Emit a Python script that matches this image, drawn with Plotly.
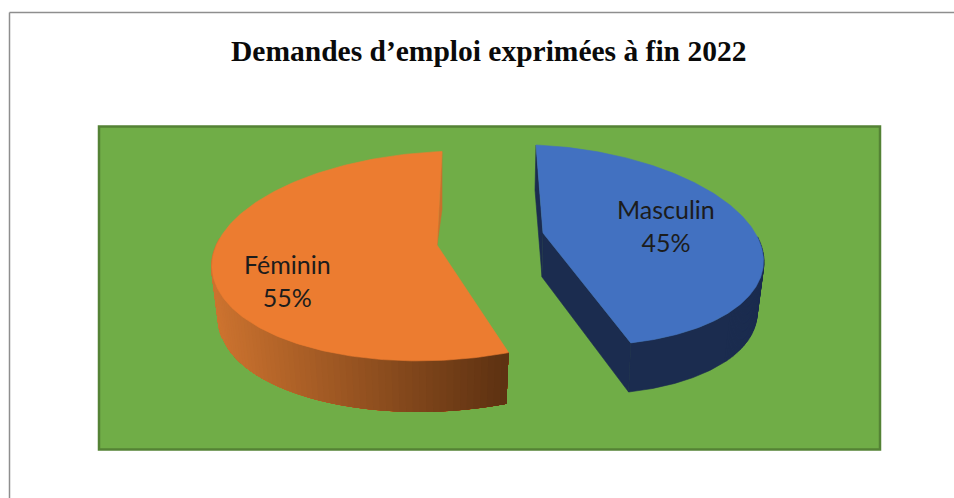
import numpy as np
import plotly.graph_objects as go

title = "Demandes d’emploi exprimées à fin 2022"
categories = ["Masculin", "Féminin"]
values = [45, 55]

W, H = 954, 498
GREEN, GREEN_EDGE = "#70AD47", "#548235"
TOP = {"Masculin": "#4271C1", "Féminin": "#EC7C30"}
BLUE_WALL = "#1B2C4F"
ORANGE_INNER = "#C9702C"

# projection of each exploded slice: cx, cy, rx, ry, x skew, y tilt of the top
# face, the same for the bottom face, and the apex position of both faces
GEOM = {
    "Masculin": dict(top=(551, 245, 212, 100, 15, 9), bot=(551, 297, 205, 97, 15, 9),
                     apex=(543, 233), apex_b=(542, 277), label=(666, 225)),
    "Féminin": dict(top=(440, 256, 228, 104.5, -2, -9), bot=(440, 310.5, 221, 101, -2, -9),
                    apex=(437, 245), apex_b=(437, 290), label=(287, 280)),
}


def pt(face, theta):
    cx, cy, rx, ry, k, m = face
    return cx + rx * np.sin(theta) - k * np.cos(theta), cy - ry * np.cos(theta) + m * np.sin(theta)


def arc(face, a, b, n=120):
    return pt(face, np.linspace(a, b, n))


def poly(xs, ys, color, lw=0.6):
    return go.Scatter(x=list(xs), y=list(ys), mode="lines", fill="toself", fillcolor=color,
                      line=dict(color=color, width=lw), hoverinfo="skip", showlegend=False)


def sweep(g, a, b, n=60):
    """Outline swept by the generatrix between top and bottom face over [a, b]."""
    t = np.linspace(a, b, n)
    xt, yt = pt(g["top"], t)
    xb, yb = pt(g["bot"], t)
    xs, ys = [], []
    for i in range(n):
        xs += [xt[i], xb[i], None]
        ys += [yt[i], yb[i], None]
    return xs, ys


def lerp(c1, c2, t):
    return "rgb(%d,%d,%d)" % tuple(a + (b - a) * t for a, b in zip(c1, c2))


total = sum(values)
ang_m = 2 * np.pi * values[0] / total   # Masculin runs clockwise from 12 o'clock
spans = {"Masculin": (0.0, ang_m), "Féminin": (ang_m, 2 * np.pi)}

fig = go.Figure()

# Féminin walls: painted from the far left towards the dark right end, each band
# overlapping the next so that no seams show
g = GEOM["Féminin"]
a, b = spans["Féminin"]
x0, y0 = pt(g["top"], b)
x1, y1 = pt(g["bot"], b)
fig.add_trace(poly([x0, x1, g["apex"][0]], [y0, y1, g["apex"][1]], ORANGE_INNER))
stop = a + (b - a) * 0.62
edges = np.linspace(a, stop, 71)
L, R = 212, 508
xs, ys = sweep(g, stop - 0.45, stop)
fig.add_trace(go.Scatter(x=xs, y=ys, mode="lines", line=dict(color="rgb(206,116,48)", width=2),
                         hoverinfo="skip", showlegend=False))
for e0 in edges[:-1][::-1]:
    xt, yt = arc(g["top"], a, e0 + (edges[1] - edges[0]), 40)
    xb, yb = arc(g["bot"], e0 + (edges[1] - edges[0]), a, 40)
    t = (R - pt(g["top"], e0)[0]) / (R - L)
    col = lerp((94, 50, 18), (206, 116, 48), float(np.clip(t, 0, 1)))
    fig.add_trace(poly(np.r_[xt, xb], np.r_[yt, yb], col, 0))

# Masculin walls: the outer wall only starts where it becomes visible
g = GEOM["Masculin"]
a, b = spans["Masculin"]
vis = a + 1.4
xt, yt = arc(g["top"], vis, b)
xb, yb = arc(g["bot"], b, vis)
fig.add_trace(poly(np.r_[xt, xb], np.r_[yt, yb], BLUE_WALL))
xs, ys = sweep(g, vis, vis + 0.8)
fig.add_trace(go.Scatter(x=xs, y=ys, mode="lines", line=dict(color=BLUE_WALL, width=2),
                         hoverinfo="skip", showlegend=False))
xe, ye = pt(g["top"], b)
xf, yf = pt(g["bot"], b)
fig.add_trace(poly([g["apex"][0], xe, xf, g["apex_b"][0]], [g["apex"][1], ye, yf, g["apex_b"][1]], BLUE_WALL))
xe, ye = pt(g["top"], a)
xf, yf = pt(g["bot"], a)
fig.add_trace(poly([xe, xf - 1, g["apex_b"][0], g["apex"][0]], [ye, yf - 10, g["apex_b"][1], g["apex"][1]], BLUE_WALL))

# top faces and labels
for cat, val in zip(categories, values):
    g = GEOM[cat]
    xs, ys = arc(g["top"], *spans[cat], 200)
    fig.add_trace(poly(np.r_[g["apex"][0], xs, g["apex"][0]], np.r_[g["apex"][1], ys, g["apex"][1]], TOP[cat]))
    fig.add_annotation(x=g["label"][0], y=g["label"][1], xref="x", yref="y", showarrow=False,
                       text=f"{cat}<br>{val}%", align="center",
                       font=dict(family="Lato", size=25, color="#1C1C1C"))

fig.add_annotation(x=488.5, y=50.5, xref="x", yref="y", showarrow=False, text=f"<b>{title}</b>",
                   font=dict(family="Liberation Serif", size=29.5, color="#0A0A0A"))

fig.update_layout(
    width=W, height=H, margin=dict(l=0, r=0, t=0, b=0),
    paper_bgcolor="white", plot_bgcolor="white", showlegend=False,
    xaxis=dict(range=[0, W], visible=False, fixedrange=True),
    yaxis=dict(range=[H, 0], visible=False, fixedrange=True),
    shapes=[
        dict(type="rect", xref="x", yref="y", x0=99, x1=880, y0=126.5, y1=449.5, layer="below",
             fillcolor=GREEN, line=dict(color=GREEN_EDGE, width=2.5)),
        dict(type="line", xref="x", yref="y", x0=9.5, x1=9.5, y0=12.5, y1=H,
             line=dict(color="#8E8E8E", width=1.5)),
        dict(type="line", xref="x", yref="y", x0=9.5, x1=W, y0=12.5, y1=12.5,
             line=dict(color="#8E8E8E", width=1.5)),
    ],
)
fig.write_html("out.html", config=dict(displayModeBar=False),
               post_script="document.body.style.margin='0';document.documentElement.style.overflow='hidden';")
